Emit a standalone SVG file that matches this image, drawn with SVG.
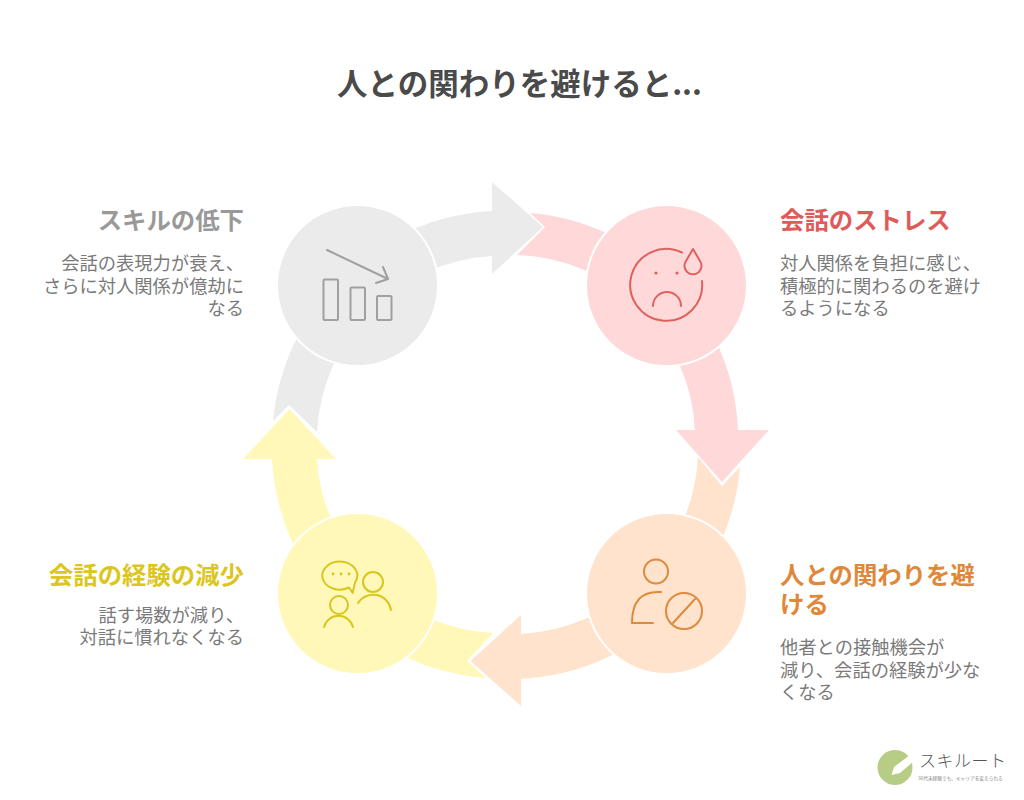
<svg xmlns="http://www.w3.org/2000/svg" width="1024" height="800" viewBox="0 0 1024 800">
<style>
text{font-family:"Noto Sans CJK JP","Noto Sans",sans-serif}
.title{font-size:30.500px;font-weight:700;fill:#4a4a4a}
.h{font-size:24.400px;font-weight:700}
.b{font-size:18.300px;fill:#7a7a7a}
.r{text-anchor:end}
.ico{fill:none;stroke-width:2;stroke-linecap:round;stroke-linejoin:round}
.c{stroke:#fff;stroke-width:2}
</style>
<rect width="1024" height="800" fill="#fff"/>
<text class="title" x="337" y="95">人との関わりを避けると...</text>
<g id="connectors">
<path fill="#ebebeb" d="M273 421A232 232 0 0 1 492 211V182L543 227L492 274V256A186 186 0 0 0 317 432L289 405Z"/>
<path fill="#ffd9d9" d="M530 213A227 227 0 0 1 738 430H769L722 482L676 430H695A184 184 0 0 0 517 255L545 227Z"/>
<path fill="#ffe3cc" d="M740 467A232 232 0 0 1 521 679V706L470.500 661L521 615V634A187 187 0 0 0 698 457L722 486Z"/>
<path fill="#fff8b8" d="M486 678A232 232 0 0 1 272 459H243L289.500 409L336 459H317A186 186 0 0 0 493 633L467 661Z"/>
</g>
<g id="node-gray">
<circle class="c" cx="357.500" cy="285.500" r="80.500" fill="#ebebeb"/>
<g class="ico" stroke="#a0a0a0">
<path d="M327 250L388 279M383 267L388 279L376 283"/>
<rect x="323.500" y="279.500" width="14.500" height="40.500" rx="1"/>
<rect x="350.500" y="287.500" width="14.500" height="32.500" rx="1"/>
<rect x="377" y="296" width="14.500" height="24" rx="1"/>
</g>
<text class="h r" x="244" y="229" fill="#999">スキルの低下</text>
<text class="b r" x="244" y="270">会話の表現力が衰え、</text>
<text class="b r" x="244" y="293">さらに対人関係が億劫に</text>
<text class="b r" x="244" y="315">なる</text>
</g>
<g id="node-pink">
<circle class="c" cx="666.500" cy="285.500" r="80.500" fill="#ffd9d9"/>
<g class="ico" stroke="#e0605c">
<path d="M682 252.500A36 36 0 1 0 702 281"/>
<path d="M693 249L700 261A8.500 8.500 0 1 1 686 261Z"/>
<path d="M653 306A14 14 0 0 1 681 306"/>
</g>
<circle cx="656" cy="273" r="1.600" fill="#e0605c"/><circle cx="677" cy="273" r="1.600" fill="#e0605c"/>
<text class="h" x="780" y="229" fill="#e05a5a">会話のストレス</text>
<text class="b" x="780" y="270">対人関係を負担に感じ、</text>
<text class="b" x="780" y="293">積極的に関わるのを避け</text>
<text class="b" x="780" y="315">るようになる</text>
</g>
<g id="node-orange">
<circle class="c" cx="666.500" cy="593.500" r="80.500" fill="#ffe3cc"/>
<g class="ico" stroke="#dd8a3c">
<circle cx="656" cy="571.500" r="12"/>
<path d="M661 592Q632 590 632 623H653"/>
<circle cx="684" cy="611" r="18"/>
<path d="M673 623L695 599"/>
</g>
<text class="h" x="780" y="584" fill="#e0883a">人との関わりを避</text>
<text class="h" x="780" y="613" fill="#e0883a">ける</text>
<text class="b" x="780" y="654">他者との接触機会が</text>
<text class="b" x="780" y="677">減り、会話の経験が少な</text>
<text class="b" x="780" y="699">くなる</text>
</g>
<g id="node-yellow">
<circle class="c" cx="357.500" cy="593.500" r="80.500" fill="#fff8b8"/>
<g class="ico" stroke="#d8c61e">
<path d="M352.700 593L349 587.500A17.500 14 0 1 1 355 582.500Z"/>
<circle cx="373" cy="582" r="10"/>
<path d="M358 603A18 18 0 0 1 391 610"/>
<circle cx="339" cy="605" r="9"/>
<path d="M324 627A15 15 0 0 1 353 627"/>
</g>
<g fill="#d8c61e"><circle cx="333" cy="574" r="1.400"/><circle cx="341" cy="574" r="1.400"/><circle cx="349" cy="574" r="1.400"/></g>
<text class="h r" x="244" y="584" fill="#dcc61e">会話の経験の減少</text>
<text class="b r" x="244" y="622">話す場数が減り、</text>
<text class="b r" x="244" y="644">対話に慣れなくなる</text>
</g>
<g id="logo">
<circle cx="895" cy="767.500" r="17.500" fill="#b7cd85"/>
<path d="M914 752L894 767L891.500 775L900 773L914 761Z" fill="#fff"/>
<text x="919" y="767" font-size="17" font-weight="300" letter-spacing="0.500" fill="#555">スキルート</text>
<text x="918" y="780" font-size="4.700" fill="#888">30代未経験でも、キャリアを変えられる</text>
</g>
</svg>
